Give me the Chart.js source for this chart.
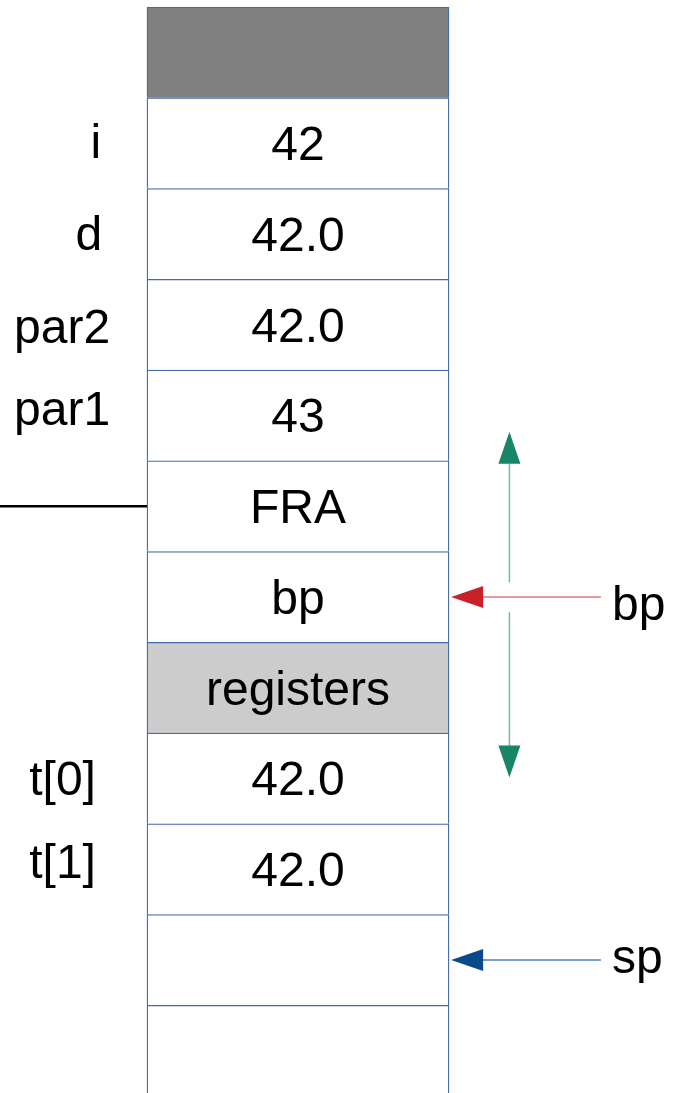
<!DOCTYPE html>
<html>
<head>
<meta charset="utf-8">
<script src="https://cdn.jsdelivr.net/npm/chart.js@4.4.1/dist/chart.umd.min.js"></script>
<style>
  html, body { margin: 0; padding: 0; background: #fff; overflow: hidden; }
  #stackChart { display: block; }
</style>
</head>
<body>
<canvas id="stackChart" width="679" height="1093"></canvas>
<script>
// === Nội dung các ô của stack (từ trên xuống)
const cellTexts = ["", "42", "42.0", "42.0", "43", "FRA", "bp", "registers", "42.0", "42.0", "", ""];
const cellKinds = ["dark", "", "", "", "", "", "", "grey", "", "", "", ""];

// === Nhãn bên trái (tên biến) và hàng tương ứng
const varNames = ["i", "d", "par2", "par1", "t[0]", "t[1]"];
const varRows = [1, 2, 3, 4, 8, 9];

// === Con trỏ bên phải
const pointerNames = ["bp", "sp"];
const pointerRows = [6, 10];

// === Mũi tên hai chiều (khung stack frame), tính theo hàng
const frameSpan = [4.68, 8.49];
const frameGap = [6.34, 6.67];

// --- bố cục (đơn vị: chiều rộng cột = 1, chiều cao hàng = 1)
const COL_PX = 302, ROW_PX = 90.75;
const X_MIN = -147 / COL_PX, X_MAX = X_MIN + 679 / COL_PX;
const Y_MIN = -7 / ROW_PX, Y_MAX = Y_MIN + 1093 / ROW_PX;
const varX = [-0.187, -0.237, -0.44, -0.44, -0.39, -0.39];   // lề trái của nhãn
const varDy = [15, 16, 18, 10, 17, 9];
const pointerDy = [23, 13];
const FONT = "48px 'Liberation Sans', Arial, sans-serif";

const fills = { dark: "#808080", grey: "#cccccc", "": "#ffffff" };

function arrowHead(ctx, tx, ty, dx, dy, len, half, color) {
  // (dx,dy) là hướng mũi tên (đơn vị)
  const bx = tx - dx * len, by = ty - dy * len;
  ctx.fillStyle = color;
  ctx.beginPath();
  ctx.moveTo(tx, ty);
  ctx.lineTo(bx - dy * half, by + dx * half);
  ctx.lineTo(bx + dy * half, by - dx * half);
  ctx.closePath();
  ctx.fill();
}

function line(ctx, x1, y1, x2, y2, color, w) {
  ctx.strokeStyle = color;
  ctx.lineWidth = w;
  ctx.beginPath();
  ctx.moveTo(x1, y1);
  ctx.lineTo(x2, y2);
  ctx.stroke();
}

const stackDecor = {
  id: "stackDecor",
  afterDatasetsDraw(chart) {
    const { ctx } = chart;
    const xs = chart.scales.x, ys = chart.scales.y;
    const px = (v) => xs.getPixelForValue(v);
    const py = (v) => ys.getPixelForValue(v);
    ctx.save();
    ctx.font = FONT;
    ctx.fillStyle = "#000";
    ctx.textBaseline = "alphabetic";

    // chữ trong ô
    ctx.textAlign = "center";
    cellTexts.forEach((t, i) => {
      if (t) ctx.fillText(t, px(0.5), py(i + 0.5) + 17);
    });

    // nhãn biến bên trái
    ctx.textAlign = "left";
    varNames.forEach((t, k) => {
      ctx.fillStyle = "#000";
      ctx.fillText(t, px(varX[k]), py(varRows[k] + 0.5) + varDy[k]);
    });

    // đường đen ngang từ lề trái tới ô FRA
    line(ctx, px(X_MIN), py(5.5), px(0), py(5.5), "#000", 2.5);

    // mũi tên khung (xanh lá)
    const gx = px(1.2);
    line(ctx, gx, py(frameSpan[0]) + 30, gx, py(frameGap[0]), "#72bca6", 1.5);
    line(ctx, gx, py(frameGap[1]), gx, py(frameSpan[1]) - 30, "#72bca6", 1.5);
    arrowHead(ctx, gx, py(frameSpan[0]), 0, -1, 32, 11, "#178566");
    arrowHead(ctx, gx, py(frameSpan[1]), 0, 1, 32, 11, "#178566");

    // con trỏ bp / sp
    const lineCol = ["#e07a7a", "#4d7cb1"];
    const headCol = ["#c82228", "#0b4a8a"];
    pointerNames.forEach((t, k) => {
      const y = py(pointerRows[k] + 0.5);
      line(ctx, px(1.503), y, px(1.007) + 30, y, lineCol[k], 1.5);
      arrowHead(ctx, px(1.007), y, -1, 0, 32, 11, headCol[k]);
      ctx.fillStyle = "#000";
      ctx.fillText(t, px(1.54), y + pointerDy[k]);
    });
    ctx.restore();
  }
};

new Chart(document.getElementById("stackChart"), {
  type: "bar",
  data: {
    datasets: [{
      data: cellTexts.map((t, i) => ({ y: i + 0.5, x: [0, 1] })),
      backgroundColor: cellKinds.map((k) => fills[k]),
      borderColor: "#4469ad",
      borderWidth: { top: 1.3, left: 1.3, right: 1.3, bottom: 0 },
      borderSkipped: false,
      barPercentage: 1,
      categoryPercentage: 1,
    }],
  },
  options: {
    indexAxis: "y",
    responsive: false,
    devicePixelRatio: 1,
    animation: false,
    layout: { padding: 0 },
    plugins: { legend: { display: false }, tooltip: { enabled: false } },
    scales: {
      x: { type: "linear", min: X_MIN, max: X_MAX, display: false },
      y: { type: "linear", min: Y_MIN, max: Y_MAX, reverse: true, offset: false, display: false },
    },
  },
  plugins: [stackDecor],
});
</script>
</body>
</html>
